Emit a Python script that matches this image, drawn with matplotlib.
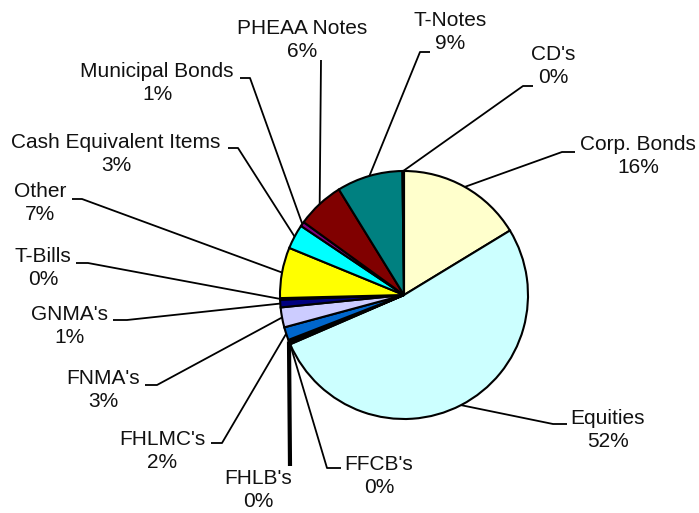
import numpy as np
import matplotlib.pyplot as plt

plt.rcParams['font.family'] = ['Liberation Sans', 'DejaVu Sans']

# portfolio shares (%), clockwise from 12 o'clock
names = ["Corp. Bonds", "Equities", "FFCB's", "FHLB's", "FHLMC's", "FNMA's",
         "GNMA's", "T-Bills", "Other", "Cash Equivalent Items", "Municipal Bonds",
         "PHEAA Notes", "T-Notes", "CD's"]
shares = [16.3, 52.2, 0.2, 0.4, 1.7, 2.6, 1.0, 0.2, 6.6, 3.2, 0.6, 6.2, 8.6, 0.2]
colors = ["#FFFFCC", "#CCFFFF", "#000000", "#000000", "#0066CC", "#CCCCFF",
          "#000080", "#FF00FF", "#FFFF00", "#00FFFF", "#800080", "#800000",
          "#008080", "#993366"]

W, H = 699, 513
cx, cy, R = 404, 295, 124  # pie centre / radius in pixels (y down)

# label layout in pixels: text centre, elbow point, end of short horizontal tail
layout = {
    "Corp. Bonds": ((638, 156), (562, 152), 575),
    "Equities": ((608, 430), (553, 424), 567),
    "FFCB's": ((379, 476), (327, 468), 341),
    "FHLB's": ((258, 490), (290, 466), None),
    "FHLMC's": ((162, 451), (222, 443), 211),
    "FNMA's": ((103, 390), (157, 385), 145),
    "GNMA's": ((69, 326), (127, 320), 113),
    "T-Bills": ((43, 268), (88, 263), 76),
    "Other": ((40, 203), (82, 199), 72),
    "Cash Equivalent Items": ((116, 154), (238, 148), 228),
    "Municipal Bonds": ((157, 83), (250, 78), 240),
    "PHEAA Notes": ((302, 40), (321, 60), None),
    "T-Notes": ((450, 32), (420, 52), 430),
    "CD's": ((553, 66), (523, 86), 533),
}


def fy(y):
    return H - y


fig = plt.figure(figsize=(W / 100, H / 100), dpi=100)
ax = fig.add_axes([0, 0, 1, 1])
wedges, _ = ax.pie(shares, colors=colors, startangle=90, counterclock=False,
                   radius=R, center=(cx, fy(cy)),
                   wedgeprops=dict(edgecolor='black', linewidth=1.5))
ax.set_xlim(0, W)
ax.set_ylim(0, H)
ax.set_aspect('equal')
ax.axis('off')

total = sum(shares)
for w, name, val in zip(wedges, names, shares):
    mid = np.deg2rad((w.theta1 + w.theta2) / 2)
    px = cx + R * np.cos(mid)
    py = fy(cy) + R * np.sin(mid)
    (tx, ty), (ex, ey), tail = layout[name]
    lw = 3 if name == "FHLB's" else 1.3
    xs = [px, ex]
    ys = [py, fy(ey)]
    if tail is not None:
        xs.append(tail)
        ys.append(fy(ey))
    ax.plot(xs, ys, color='black', lw=lw, solid_capstyle='butt', zorder=1)
    pct = round(val / total * 100)
    ax.text(tx, fy(ty), f"{name}\n{pct}%", ha='center', va='center',
            fontsize=15, linespacing=1.3, color='#111111')

fig.savefig('out.png', dpi=100)
